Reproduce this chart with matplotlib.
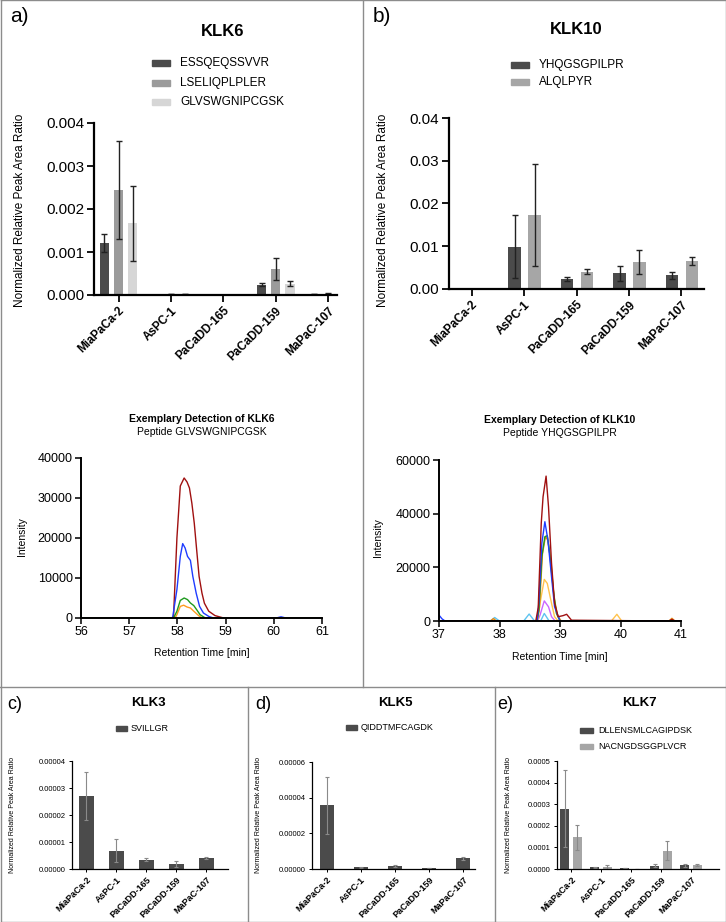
import numpy as np
import matplotlib
matplotlib.use("Agg")
import matplotlib.pyplot as plt
from matplotlib.patches import Rectangle
from matplotlib.lines import Line2D
from matplotlib.ticker import FormatStrFormatter
from matplotlib.transforms import Affine2D

plt.rcParams['font.family'] = ['Liberation Sans', 'DejaVu Sans']

# ---- data ----
cells = ['MiaPaCa-2', 'AsPC-1', 'PaCaDD-165', 'PaCaDD-159', 'MaPaC-107']

klk6_names = ['ESSQEQSSVVR', 'LSELIQPLPLER', 'GLVSWGNIPCGSK']
klk6_essq = [0.00121, 0.0, 0.0, 0.00024, 0.00002]
klk6_essq_err = [0.0002, 0.0, 0.0, 0.00004, 0.000004]
klk6_lsel = [0.00244, 0.00002, 0.0, 0.00061, 0.00003]
klk6_lsel_err = [0.00113, 0.000004, 0.0, 0.00025, 0.000005]
klk6_glvs = [0.00167, 0.00002, 0.0, 0.000265, 0.00002]
klk6_glvs_err = [0.00087, 0.000003, 0.0, 0.00005, 0.000003]

klk10_names = ['YHQGSGPILPR', 'ALQLPYR']
klk10_yhqg = [0.0001, 0.0099, 0.00234, 0.00367, 0.0032]
klk10_yhqg_err = [0.0, 0.0073, 0.0004, 0.0018, 0.0008]
klk10_alql = [0.0, 0.0173, 0.0040, 0.0063, 0.0066]
klk10_alql_err = [0.0, 0.0119, 0.0006, 0.0029, 0.0009]

klk3_names = ['SVILLGR']
klk3_svil = [2.7e-5, 0.68e-5, 0.34e-5, 0.185e-5, 0.40e-5]
klk3_svil_err = [0.9e-5, 0.43e-5, 0.06e-5, 0.10e-5, 0.045e-5]

klk5_names = ['QIDDTMFCAGDK']
klk5_qidd = [3.58e-5, 0.10e-5, 0.17e-5, 0.04e-5, 0.60e-5]
klk5_qidd_err = [1.6e-5, 0.03e-5, 0.03e-5, 0.01e-5, 0.07e-5]

klk7_names = ['DLLENSMLCAGIPDSK', 'NACNGDSGGPLVCR']
klk7_dlle = [0.00028, 0.000007, 0.000003, 0.000015, 0.000017]
klk7_dlle_err = [0.00018, 0.000003, 0.0, 0.000008, 0.000008]
klk7_nacn = [0.000146, 0.00001, 0.0, 0.000085, 0.000017]
klk7_nacn_err = [0.00006, 0.00001, 0.0, 0.000045, 0.000004]

# chromatogram KLK6 (GLVSWGNIPCGSK)
k6_red_t = [56.0, 57.88, 57.92, 57.99, 58.06, 58.14, 58.20, 58.25, 58.30, 58.35, 58.40, 58.45, 58.51, 58.56, 58.65, 58.78, 58.96, 61.0]
k6_red_i = [0, 0, 400, 20000, 33000, 35000, 34000, 32500, 28700, 23700, 17000, 10400, 6200, 3700, 1700, 600, 0, 0]
k6_blue_t = [56.0, 57.90, 57.99, 58.06, 58.11, 58.16, 58.21, 58.27, 58.32, 58.39, 58.46, 58.54, 58.65, 58.75, 60.05, 60.15, 60.25, 61.0]
k6_blue_i = [0, 0, 7100, 15400, 18600, 17500, 15400, 14400, 10400, 6200, 2900, 1250, 400, 0, 0, 300, 0, 0]
k6_orange_t = [56.0, 57.95, 57.99, 58.06, 58.13, 58.20, 58.27, 58.34, 58.44, 58.51, 61.0]
k6_orange_i = [0, 0, 830, 2900, 3200, 2750, 2500, 1700, 600, 0, 0]
k6_green_t = [56.0, 57.92, 57.99, 58.06, 58.14, 58.21, 58.27, 58.34, 58.41, 58.47, 58.58, 61.0]
k6_green_i = [0, 0, 1700, 4400, 5000, 4600, 3750, 3100, 1900, 830, 0, 0]

# chromatogram KLK10 (YHQGSGPILPR)
k10_sky_t = [37.0, 37.85, 37.92, 38.0, 38.40, 38.49, 38.58, 38.68, 38.74, 38.82, 38.9, 41.0]
k10_sky_i = [0, 0, 1300, 0, 0, 2600, 0, 0, 2800, 0, 0, 0]
k10_magenta_t = [37.0, 38.63, 38.67, 38.74, 38.81, 38.86, 38.92, 41.0]
k10_magenta_i = [0, 0, 2200, 7500, 5300, 1600, 0, 0]
k10_yellow_t = [37.0, 38.63, 38.67, 38.74, 38.79, 38.86, 38.91, 38.97, 39.85, 39.94, 40.02, 41.0]
k10_yellow_i = [0, 0, 6600, 15500, 14000, 6600, 1600, 0, 0, 2500, 0, 0]
k10_orange_t = [37.0, 37.85, 37.9, 37.95, 38.62, 38.66, 38.71, 38.76, 38.80, 38.85, 38.90, 38.96, 39.02, 40.8, 40.85, 40.9, 41.0]
k10_orange_i = [0, 0, 900, 0, 0, 5000, 25000, 31500, 30000, 22000, 9000, 2000, 0, 0, 1000, 0, 0]
k10_green_t = [37.0, 38.62, 38.65, 38.70, 38.75, 38.79, 38.83, 38.89, 38.94, 39.0, 41.0]
k10_green_i = [0, 0, 4000, 24000, 31400, 31800, 25200, 11500, 2900, 0, 0]
k10_blue_t = [37.0, 37.05, 37.1, 38.62, 38.65, 38.70, 38.75, 38.80, 38.86, 38.91, 39.0, 41.0]
k10_blue_i = [2200, 800, 0, 0, 6600, 29000, 37000, 30200, 16500, 5300, 0, 0]
k10_red_t = [37.0, 38.60, 38.64, 38.69, 38.72, 38.77, 38.81, 38.86, 38.91, 38.97, 39.05, 39.11, 39.19, 40.8, 40.85, 40.9, 41.0]
k10_red_i = [0, 0, 5000, 36400, 46300, 54000, 42600, 21500, 6600, 1600, 2000, 2500, 300, 0, 600, 0, 0]

# ---- figure ----
W, H = 726, 922
fig = plt.figure(figsize=(W / 100, H / 100), dpi=100)
px = Affine2D().scale(1 / W, -1 / H).translate(0, 1) + fig.transFigure


def add_ax(l, t, r, b):
    return fig.add_axes([l / W, 1 - b / H, (r - l) / W, (b - t) / H])


def ftext(x, y, s, **kw):
    fig.text(x, y, s, transform=px, **kw)


def style_ax(ax, lw, ticklen, fs):
    for s in ['top', 'right']:
        ax.spines[s].set_visible(False)
    for s in ['left', 'bottom']:
        ax.spines[s].set_linewidth(lw)
    ax.tick_params(direction='out', length=ticklen, width=lw * 0.8, labelsize=fs, pad=2)


def bar_panel(ax, series, errs, colors, width, offsets, xlim, ecolor, cap, elw):
    x = np.arange(len(cells))
    for vals, e, c, off in zip(series, errs, colors, offsets):
        ax.bar(x + off, vals, width, color=c, yerr=e,
               error_kw=dict(ecolor=ecolor, elinewidth=elw, capsize=cap, capthick=elw))
    ax.set_xlim(*xlim)
    ax.set_xticks(x)


def legend(x, ys, names, colors, pw, ph, fs, gap):
    for y, n, c in zip(ys, names, colors):
        fig.patches.append(Rectangle((x, y - ph / 2), pw, ph, transform=px, color=c))
        ftext(x + pw + gap, y, n, fontsize=fs, va='center', ha='left')


dark, mid, light, mid2 = '#4b4b4b', '#9b9b9b', '#d6d6d6', '#a6a6a6'

# panel a bars
ax = add_ax(94, 123, 337, 295)
bar_panel(ax, [klk6_essq, klk6_lsel, klk6_glvs], [klk6_essq_err, klk6_lsel_err, klk6_glvs_err],
          [dark, mid, light], 0.18, [-0.27, 0, 0.27], (-0.47, 4.17), '#222222', 2.5, 1)
ax.set_ylim(0, 0.004)
ax.set_yticks([0, 0.001, 0.002, 0.003, 0.004])
ax.yaxis.set_major_formatter(FormatStrFormatter('%.3f'))
style_ax(ax, 1.6, 5, 11)
ax.set_xticklabels(cells, rotation=45, ha='right', rotation_mode='anchor', fontweight='bold', fontsize=8.5)
ftext(20, 210, 'Normalized Relative Peak Area Ratio', rotation=90, fontsize=8.5, ha='center', va='center')
ftext(223, 32, 'KLK6', fontsize=12, fontweight='bold', ha='center', va='center')
ftext(10, 16, 'a)', fontsize=15, ha='left', va='center')
legend(152, [63, 83, 102], klk6_names, [dark, mid, light], 18, 6, 8.5, 10)

# panel b bars
ax = add_ax(449, 118, 704, 289)
bar_panel(ax, [klk10_yhqg, klk10_alql], [klk10_yhqg_err, klk10_alql_err],
          [dark, mid2], 0.24, [-0.18, 0.2], (-0.43, 4.43), '#222222', 2.5, 1)
ax.set_ylim(0, 0.04)
ax.set_yticks([0, 0.01, 0.02, 0.03, 0.04])
ax.yaxis.set_major_formatter(FormatStrFormatter('%.2f'))
style_ax(ax, 1.6, 5, 11)
ax.set_xticklabels(cells, rotation=45, ha='right', rotation_mode='anchor', fontweight='bold', fontsize=8.5)
ftext(383, 210, 'Normalized Relative Peak Area Ratio', rotation=90, fontsize=8.5, ha='center', va='center')
ftext(576, 29, 'KLK10', fontsize=12, fontweight='bold', ha='center', va='center')
ftext(373, 16, 'b)', fontsize=15, ha='left', va='center')
legend(511, [65, 82], klk10_names, [dark, mid2], 18, 6, 8.5, 10)

# chromatogram KLK6
ax = add_ax(81, 458, 322, 618)
ax.plot(k6_red_t, k6_red_i, color='#a01010', lw=1)
ax.plot(k6_blue_t, k6_blue_i, color='#1f3cff', lw=1)
ax.plot(k6_orange_t, k6_orange_i, color='#ff9a1f', lw=1)
ax.plot(k6_green_t, k6_green_i, color='#1e9a1e', lw=1)
ax.set_xlim(56, 61)
ax.set_ylim(0, 40000)
ax.set_yticks([0, 10000, 20000, 30000, 40000])
ax.yaxis.set_major_formatter(FormatStrFormatter('%d'))
style_ax(ax, 1.4, 4, 9)
ftext(202, 419, 'Exemplary Detection of KLK6', fontsize=7.5, fontweight='bold', ha='center', va='center')
ftext(202, 432, 'Peptide GLVSWGNIPCGSK', fontsize=7.5, ha='center', va='center')
ftext(202, 653, 'Retention Time [min]', fontsize=7.5, ha='center', va='center')
ftext(22, 537, 'Intensity', fontsize=7.5, rotation=90, ha='center', va='center')

# chromatogram KLK10
ax = add_ax(439, 460, 681, 621)
ax.plot(k10_sky_t, k10_sky_i, color='#5ec4f0', lw=1)
ax.plot(k10_magenta_t, k10_magenta_i, color='#cc66ff', lw=1)
ax.plot(k10_yellow_t, k10_yellow_i, color='#ffc34d', lw=1)
ax.plot(k10_orange_t, k10_orange_i, color='#e88a10', lw=1)
ax.plot(k10_green_t, k10_green_i, color='#1e9a1e', lw=1)
ax.plot(k10_blue_t, k10_blue_i, color='#1f3cff', lw=1)
ax.plot(k10_red_t, k10_red_i, color='#a01010', lw=1)
ax.set_xlim(37, 41)
ax.set_ylim(0, 60000)
ax.set_yticks([0, 20000, 40000, 60000])
ax.yaxis.set_major_formatter(FormatStrFormatter('%d'))
style_ax(ax, 1.4, 4, 9)
ftext(560, 420, 'Exemplary Detection of KLK10', fontsize=7.5, fontweight='bold', ha='center', va='center')
ftext(560, 433, 'Peptide YHQGSGPILPR', fontsize=7.5, ha='center', va='center')
ftext(560, 657, 'Retention Time [min]', fontsize=7.5, ha='center', va='center')
ftext(378, 538, 'Intensity', fontsize=7.5, rotation=90, ha='center', va='center')

# panel c
ax = add_ax(72, 761, 228, 869)
bar_panel(ax, [klk3_svil], [klk3_svil_err], [dark], 0.5, [0], (-0.47, 4.73), '#8a8a8a', 1.5, 0.8)
ax.set_ylim(0, 0.00004)
ax.set_yticks([0, 1e-5, 2e-5, 3e-5, 4e-5])
ax.yaxis.set_major_formatter(FormatStrFormatter('%.5f'))
style_ax(ax, 0.9, 2.5, 5.5)
ax.set_xticklabels(cells, rotation=45, ha='right', rotation_mode='anchor', fontweight='bold', fontsize=6.5)
ftext(13, 815, 'Normalized Relative Peak Area Ratio', rotation=90, fontsize=5, ha='center', va='center')
ftext(148, 703, 'KLK3', fontsize=9.5, fontweight='bold', ha='center', va='center')
ftext(7, 704, 'c)', fontsize=13, ha='left', va='center')
legend(116, [728], klk3_names, [dark], 11, 5, 6.5, 4)

# panel d
ax = add_ax(312, 762, 475, 869)
bar_panel(ax, [klk5_qidd], [klk5_qidd_err], [dark], 0.4, [0], (-0.44, 4.35), '#8a8a8a', 1.5, 0.8)
ax.set_ylim(0, 0.00006)
ax.set_yticks([0, 2e-5, 4e-5, 6e-5])
ax.yaxis.set_major_formatter(FormatStrFormatter('%.5f'))
style_ax(ax, 0.9, 2.5, 5.5)
ax.set_xticklabels(cells, rotation=45, ha='right', rotation_mode='anchor', fontweight='bold', fontsize=6.5)
ftext(258, 815, 'Normalized Relative Peak Area Ratio', rotation=90, fontsize=5, ha='center', va='center')
ftext(395, 703, 'KLK5', fontsize=9.5, fontweight='bold', ha='center', va='center')
ftext(255, 704, 'd)', fontsize=13, ha='left', va='center')
legend(346, [727], klk5_names, [dark], 11, 5, 6.5, 4)

# panel e
ax = add_ax(557, 761, 719, 869)
bar_panel(ax, [klk7_dlle, klk7_nacn], [klk7_dlle_err, klk7_nacn_err], [dark, mid2], 0.29, [-0.21, 0.21],
          (-0.47, 4.93), '#8a8a8a', 1.5, 0.8)
ax.set_ylim(0, 0.0005)
ax.set_yticks([0, 0.0001, 0.0002, 0.0003, 0.0004, 0.0005])
ax.yaxis.set_major_formatter(FormatStrFormatter('%.4f'))
style_ax(ax, 0.9, 2.5, 5.5)
ax.set_xticklabels(cells, rotation=45, ha='right', rotation_mode='anchor', fontweight='bold', fontsize=6.5)
ftext(508, 815, 'Normalized Relative Peak Area Ratio', rotation=90, fontsize=5, ha='center', va='center')
ftext(639, 703, 'KLK7', fontsize=9.5, fontweight='bold', ha='center', va='center')
ftext(497, 704, 'e)', fontsize=13, ha='left', va='center')
legend(580, [730, 746], klk7_names, [dark, mid2], 13, 5, 6.5, 5)

# panel borders
border = '#8c8c8c'
for xs, ys in [([0.5, 725.5, 725.5, 0.5, 0.5], [0.5, 0.5, 921.5, 921.5, 0.5]),
               ([363, 363], [0, 687]), ([0, 726], [687, 687]),
               ([248, 248], [687, 922]), ([495, 495], [687, 922])]:
    fig.add_artist(Line2D(xs, ys, transform=px, color=border, lw=1))

fig.savefig('out.png', dpi=100)
